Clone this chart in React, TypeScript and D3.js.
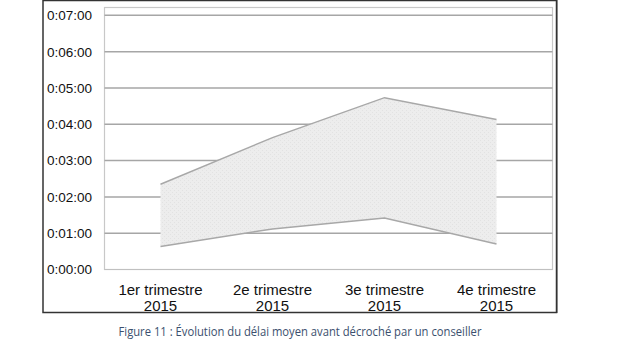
import React from "react";
import * as d3 from "d3";

const categories = ["1er trimestre|2015", "2e trimestre|2015", "3e trimestre|2015", "4e trimestre|2015"];
// seconds
const upperValues = [141, 218, 284, 248];
const lowerValues = [38, 67, 85, 42];
const yTicks = [0, 60, 120, 180, 240, 300, 360, 420];
const caption = "Figure 11 : Évolution du délai moyen avant décroché par un conseiller";

const fmt = (s: number) => {
  const h = Math.floor(s / 3600);
  const m = Math.floor((s % 3600) / 60);
  const sec = s % 60;
  return `${h}:${String(m).padStart(2, "0")}:${String(sec).padStart(2, "0")}`;
};

export default function App() {
  const W = 620, H = 350;
  const plot = { left: 104.5, right: 552.5, top: 7.5, bottom: 269.5 };
  const x = d3.scaleBand<string>().domain(categories).range([plot.left, plot.right]);
  const cx = (c: string) => (x(c) as number) + x.bandwidth() / 2;
  const y = d3.scaleLinear().domain([0, 433]).range([plot.bottom, plot.top]);

  const pts = categories.map((c, i) => ({ c, lo: lowerValues[i], hi: upperValues[i] }));
  const area = d3.area<typeof pts[0]>().x(d => cx(d.c)).y0(d => y(d.lo)).y1(d => y(d.hi));
  const lineHi = d3.line<typeof pts[0]>().x(d => cx(d.c)).y(d => y(d.hi));
  const lineLo = d3.line<typeof pts[0]>().x(d => cx(d.c)).y(d => y(d.lo));

  return (
    <svg width={W} height={H} style={{ position: "absolute", left: 0, top: 0, background: "#fff" }}
      fontFamily="'Liberation Sans', Arial, sans-serif">
      <defs>
        <pattern id="dots" width="4" height="4" patternUnits="userSpaceOnUse">
          <rect width="4" height="4" fill="#ededed" />
          <rect x="0" y="0" width="1" height="1" fill="#e2e2e2" />
          <rect x="2" y="2" width="1" height="1" fill="#e2e2e2" />
        </pattern>
      </defs>
      {/* outer frame */}
      <rect x={43} y={0.5} width={513.5} height={312} fill="#fff" stroke="#333" strokeWidth={1.5} />
      <line x1={557.5} y1={0} x2={557.5} y2={313} stroke="#888" strokeWidth={1} />
      {/* plot border */}
      <rect x={plot.left} y={plot.top} width={plot.right - plot.left} height={plot.bottom - plot.top}
        fill="none" stroke="#c8c8c8" strokeWidth={1.2} />
      {/* gridlines */}
      {yTicks.filter(t => t > 0).map(t => (
        <line key={t} x1={plot.left} x2={plot.right} y1={y(t)} y2={y(t)} stroke="#a6a6a6" strokeWidth={1.5} />
      ))}
      <line x1={plot.left} x2={plot.right} y1={plot.bottom} y2={plot.bottom} stroke="#c0c0c0" strokeWidth={1.2} />
      {/* area */}
      <path d={area(pts) || ""} fill="url(#dots)" />
      <path d={lineHi(pts) || ""} fill="none" stroke="#a8a8a8" strokeWidth={1.5} />
      <path d={lineLo(pts) || ""} fill="none" stroke="#a8a8a8" strokeWidth={1.5} />
      {/* y labels */}
      {yTicks.map(t => (
        <text key={t} x={92} y={y(t)} dy="0.36em" textAnchor="end" fontSize={13.5} fill="#111">{fmt(t)}</text>
      ))}
      {/* x labels */}
      {categories.map(c => {
        const [a, b] = c.split("|");
        return (
          <text key={c} x={cx(c)} textAnchor="middle" fontSize={15} fill="#111">
            <tspan x={cx(c)} y={295}>{a}</tspan>
            <tspan x={cx(c)} y={310.5}>{b}</tspan>
          </text>
        );
      })}
      {/* caption */}
      <text x={300} y={336} textAnchor="middle" fontSize={13} fill="#3b4f6e"
        fontFamily="'Open Sans', 'Noto Sans', sans-serif" textLength={363} lengthAdjust="spacingAndGlyphs">
        {caption}
      </text>
    </svg>
  );
}
